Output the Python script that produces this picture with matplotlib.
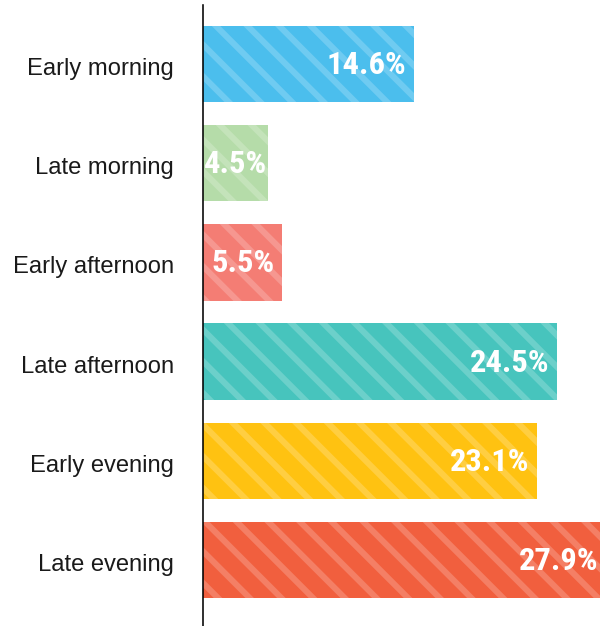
import numpy as np
import matplotlib.pyplot as plt
import matplotlib.colors as mcolors
import matplotlib.transforms as mtransforms

# Chart data
categories = ['Early morning', 'Late morning', 'Early afternoon',
              'Late afternoon', 'Early evening', 'Late evening']
shares = [14.6, 4.5, 5.5, 24.5, 23.1, 27.9]
bar_colors = ['#4BBEED', '#B5DCA9', '#F47D74', '#47C4BD', '#FFC211', '#F15F3E']

DPI = 190
plt.rcParams['hatch.linewidth'] = 2.3

fig = plt.figure(figsize=(600 / DPI, 626 / DPI), dpi=DPI)
ax = fig.add_axes([203 / 600, 0.0, 1 - 203 / 600, 1 - 5 / 626])

y = np.arange(len(categories))
for i, (val, col) in enumerate(zip(shares, bar_colors)):
    # lighter stripe colour = bar colour mixed with some white
    rgb = np.array(mcolors.to_rgb(col))
    stripe = tuple(rgb + (1 - rgb) * 0.2)
    ax.barh(y[i], val, height=0.77, color=col, edgecolor=stripe,
            hatch='\\\\', linewidth=0)

ax.set_xlim(0, 27.47)
ax.set_ylim(5.665, -0.595)
ax.set_yticks(y)
ax.set_yticklabels(categories, fontsize=9.0, family=['Liberation Sans', 'DejaVu Sans'],
                   color='#1a1a1a')
ax.tick_params(axis='y', length=0, pad=11)
ax.set_xticks([])
for s in ['top', 'right', 'bottom']:
    ax.spines[s].set_visible(False)
ax.spines['left'].set_linewidth(0.6)
ax.spines['left'].set_color('black')

# nudge category labels a touch lower
shift = mtransforms.ScaledTranslation(0, -2.5 / DPI, fig.dpi_scale_trans)
for lbl in ax.get_yticklabels():
    lbl.set_transform(lbl.get_transform() + shift)

# value labels inside the bars
fig.canvas.draw()
renderer = fig.canvas.get_renderer()
ax_left = ax.get_window_extent().x0
for i, val in enumerate(shares):
    t = ax.annotate('%.1f%%' % val, xy=(val, y[i]), xytext=(-3, -0.4),
                    textcoords='offset points', ha='right', va='center',
                    color='white', fontsize=12.3, fontweight='bold',
                    family=['Roboto Condensed', 'DejaVu Sans'],
                    annotation_clip=False)
    bb = t.get_window_extent(renderer)
    if bb.x0 < ax_left:
        # too short a bar: start the label at the axis instead
        t.xy = (0, y[i])
        t.set_position((0.5, -0.4))
        t.set_ha('left')

fig.savefig('out.png', dpi=DPI)
